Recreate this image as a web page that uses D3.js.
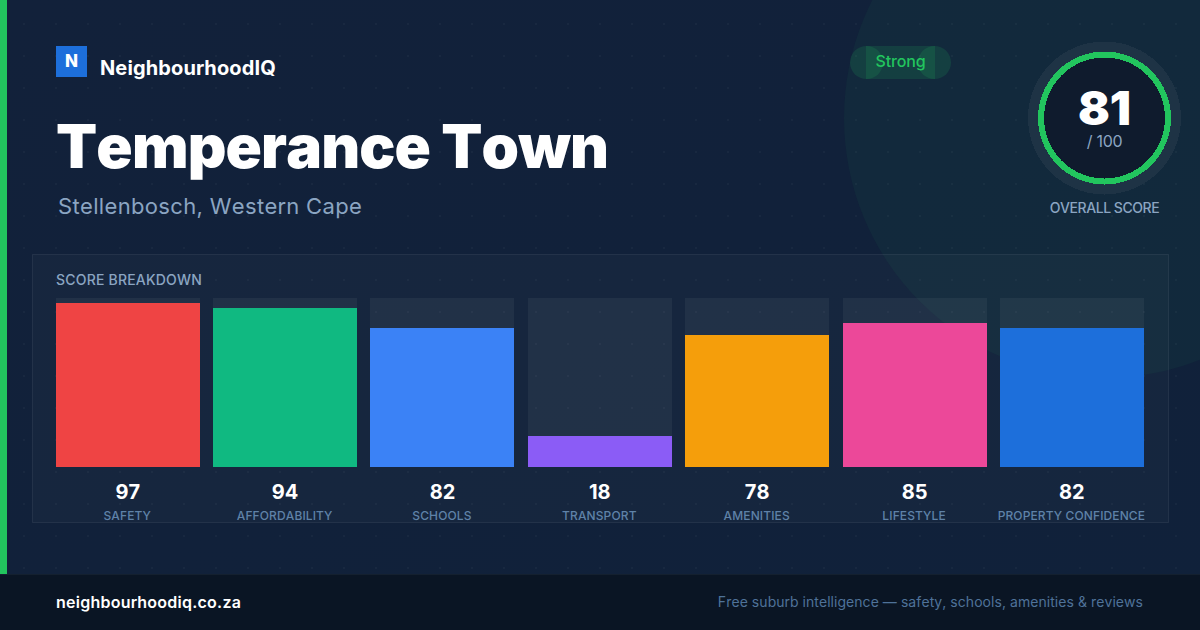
<!DOCTYPE html>
<html><head><meta charset="utf-8">
<script src="https://cdn.jsdelivr.net/npm/d3@7"></script>
<style>html,body{margin:0;padding:0;background:#12213a;overflow:hidden}svg{display:block;position:absolute;left:0;top:0}#t{position:absolute;left:0;top:0;width:1200px;height:630px}#t div{position:absolute;font-family:Inter,sans-serif;white-space:nowrap;line-height:normal;font-kerning:none}</style>
</head><body><svg id="c" width="1200" height="630"></svg><div id="t"></div>
<script>
const categories=["SAFETY","AFFORDABILITY","SCHOOLS","TRANSPORT","AMENITIES","LIFESTYLE","PROPERTY CONFIDENCE"];
const scores=[97,94,82,18,78,85,82];
const barColors=["#ef4444","#10b981","#3b82f6","#8b5cf6","#f59e0b","#ec4899","#1d6fdb"];
const overallScore=81;
const svg=d3.select("#c"), layer=d3.select("#t");
function txt(x,base,anchor,size,weight,color,s,sp){
  const top=base-Math.round(0.96875*size);
  const d=layer.append("div").style("top",top+"px").style("font-size",size+"px").style("font-weight",weight).style("color",color).style("letter-spacing",(sp||0)+"px").text(s);
  if(anchor==="start") d.style("left",x+"px");
  else if(anchor==="middle") d.style("left",(x-300)+"px").style("width","600px").style("text-align","center");
  else d.style("right",(1200-x)+"px");
  return d;
}
const defs=svg.append("defs");
const grad=defs.append("linearGradient").attr("id","bg").attr("x1",0).attr("y1",0).attr("x2",1).attr("y2",1);
grad.append("stop").attr("offset","0%").attr("stop-color","#12213a");
grad.append("stop").attr("offset","100%").attr("stop-color","#10213a");
const pat=defs.append("pattern").attr("id","dots").attr("width",32).attr("height",32).attr("patternUnits","userSpaceOnUse");
pat.append("circle").attr("cx",24).attr("cy",24).attr("r",1).attr("fill","rgba(255,255,255,0.04)");
svg.append("rect").attr("width",1200).attr("height",630).attr("fill","url(#bg)");
svg.append("circle").attr("cx",1104).attr("cy",118).attr("r",260).attr("fill","rgba(34,197,94,0.05)");
svg.append("rect").attr("width",1200).attr("height",630).attr("fill","url(#dots)");
svg.append("rect").attr("x",0).attr("y",0).attr("width",7).attr("height",574).attr("fill","#22c55e");
// brand
svg.append("rect").attr("x",56).attr("y",46).attr("width",31).attr("height",31).attr("fill","#1d6fdb");
txt(71.5,67,"middle",17,800,"#fff","N");
txt(100,75,"start",20,700,"#fff","NeighbourhoodIQ",0.13);
txt(56,168,"start",60,900,"#fff","Temperance Town",-0.85);
txt(58,214,"start",22,400,"#8ba5c2","Stellenbosch, Western Cape",0.34);
// pill
svg.append("rect").attr("x",866).attr("y",46).attr("width",69).attr("height",33).attr("fill","rgba(34,197,94,0.15)");
[866.5,934.5].forEach(cx=>svg.append("circle").attr("cx",cx).attr("cy",62.5).attr("r",16.5).attr("fill","rgba(34,197,94,0.15)"));
txt(900.5,67,"middle",16,500,"#22c55e","Strong",-0.2);
// gauge
svg.append("circle").attr("cx",1104.5).attr("cy",118).attr("r",76.5).attr("fill","#1e3345").attr("shape-rendering","crispEdges");
svg.append("circle").attr("cx",1104.5).attr("cy",118).attr("r",66.5).attr("fill","#22c55e").attr("shape-rendering","crispEdges");
svg.append("circle").attr("cx",1104.5).attr("cy",118).attr("r",60.5).attr("fill","#0f1b2d").attr("shape-rendering","crispEdges");
txt(1104.5,125,"middle",47,900,"#fff",overallScore);
txt(1104.5,147,"middle",16,400,"#8ba5c2","/ 100",-0.3);
txt(1104.5,213,"middle",14,500,"#8ba5c2","OVERALL SCORE",-0.45);
// panel
svg.append("rect").attr("x",32.5).attr("y",254.5).attr("width",1136).attr("height",268).attr("fill","rgba(255,255,255,0.025)").attr("stroke","rgba(255,255,255,0.07)");
txt(56,285,"start",14,500,"#8ba5c2","SCORE BREAKDOWN",0.2);
// bars
const x=d3.scaleBand().domain(categories).range([55.75,1143.91]).paddingInner(13.36/157.36);
const y=d3.scaleLinear().domain([0,100]).range([467,298]);
const data=categories.map((c,i)=>({c,v:scores[i],col:barColors[i]}));
const g=svg.append("g").selectAll("g").data(data).join("g");
g.append("rect").attr("x",d=>Math.round(x(d.c))).attr("y",y(100)).attr("width",Math.round(x.bandwidth())).attr("height",y(0)-y(100)).attr("fill","rgba(255,255,255,0.05)");
g.append("rect").attr("x",d=>Math.round(x(d.c))).attr("y",d=>Math.floor(y(d.v))).attr("width",Math.round(x.bandwidth())).attr("height",d=>y(0)-Math.floor(y(d.v))).attr("fill",d=>d.col);
data.forEach(d=>{
  const cx=x(d.c)+x.bandwidth()/2;
  txt(cx,499,"middle",20,700,"#fff",d.v);
  txt(cx-0.5,520,"middle",12,500,"#5f82a8",d.c,0.12);
});
// footer
svg.append("rect").attr("x",0).attr("y",574).attr("width",1200).attr("height",56).attr("fill","#0a1524");
svg.append("rect").attr("x",0).attr("y",574).attr("width",1200).attr("height",1).attr("fill","#14202f");
txt(56,608,"start",16,600,"#fff","neighbourhoodiq.co.za",0.24);
txt(1143,607,"end",14,400,"#4f7299","Free suburb intelligence — safety, schools, amenities & reviews",0.05);
</script></body></html>
